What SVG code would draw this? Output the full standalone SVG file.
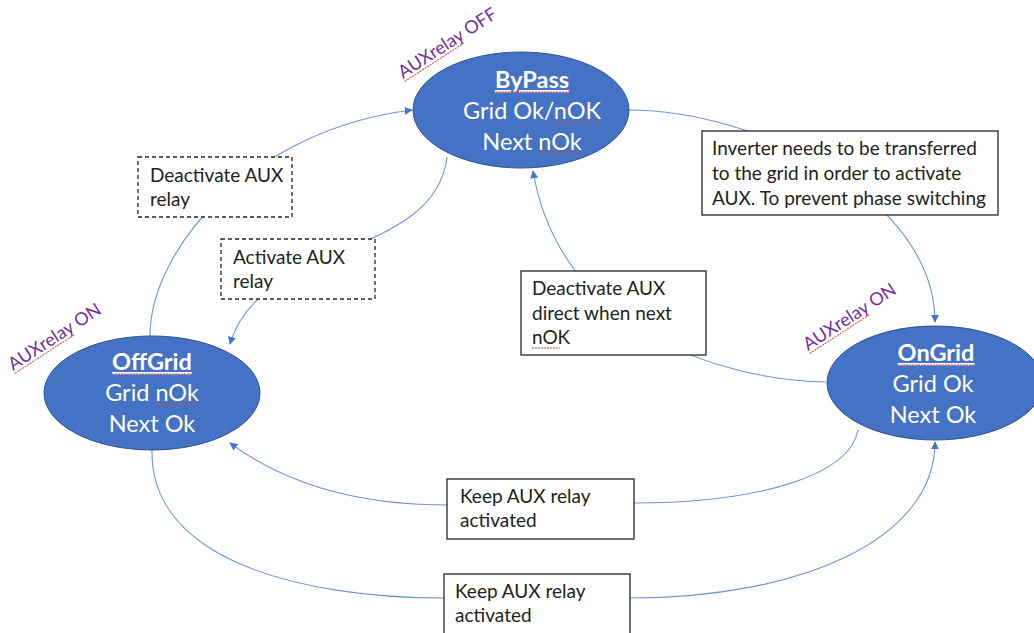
<svg xmlns="http://www.w3.org/2000/svg" width="1034" height="633" viewBox="0 0 1034 633">
<defs>
<marker id="arr" viewBox="0 0 10 10" refX="9" refY="5" markerWidth="8" markerHeight="8" markerUnits="userSpaceOnUse" orient="auto">
<path d="M0,0 L10,5 L0,10 z" fill="#4472C4"/>
</marker>
<style>
.conn{fill:none;stroke:#6F94D6;stroke-width:1.1;}
.state{fill:#4472C4;stroke:#2F528F;stroke-width:1;}
.st{font-family:Lato,"Liberation Sans",sans-serif;font-size:23.5px;fill:#fff;text-anchor:middle;}
.ttl{font-weight:bold;text-decoration:underline;}
.box{fill:#fff;stroke:#262626;stroke-width:1.3;}
.dbox{fill:#fff;stroke:#262626;stroke-width:1.3;stroke-dasharray:4,3;}
.bt{font-family:Lato,"Liberation Sans",sans-serif;font-size:19px;fill:#222;}
.aux{font-family:Lato,"Liberation Sans",sans-serif;font-size:18px;fill:#7030A0;}
.sp{fill:none;stroke:#E04040;stroke-width:1;stroke-dasharray:2,1;}
</style>
</defs>
<rect width="1034" height="633" fill="#fff"/>
<g id="connectors">
<path class="conn" d="M150,336 C150,250 250,130 412,110" marker-end="url(#arr)"/>
<path class="conn" d="M447,157 C435,260 260,240 230,344" marker-end="url(#arr)"/>
<path class="conn" d="M826,382 C720,380 560,330 533,171" marker-end="url(#arr)"/>
<path class="conn" d="M628,110 C760,110 935,200 935,322" marker-end="url(#arr)"/>
<path class="conn" d="M858,430 C850,475 760,503 634,503 L447,505 C350,505 280,480 230,443" marker-end="url(#arr)"/>
<path class="conn" d="M152,450 C150,560 300,598 444,598 L630,598 C800,598 935,540 935,442" marker-end="url(#arr)"/>
</g>
<g id="bypass">
<ellipse class="state" cx="521" cy="110" rx="108" ry="58"/>
<text class="st ttl" x="532" y="88">ByPass</text>
<text class="st" x="532" y="119">Grid Ok/nOK</text>
<text class="st" x="532" y="150">Next nOk</text>
<path class="sp" d="M496,92 H569 M555,123 H600 M539,153 H580"/>
</g>
<g id="offgrid">
<ellipse class="state" cx="152" cy="393" rx="108" ry="57"/>
<text class="st ttl" x="152" y="370">OffGrid</text>
<text class="st" x="152" y="401">Grid nOk</text>
<text class="st" x="152" y="432">Next Ok</text>
<path class="sp" d="M112,374 H193 M156,404 H199"/>
</g>
<g id="ongrid">
<ellipse class="state" cx="935" cy="383" rx="108" ry="57"/>
<text class="st ttl" x="936" y="361">OnGrid</text>
<text class="st" x="933" y="392">Grid Ok</text>
<text class="st" x="933" y="423">Next Ok</text>
<path class="sp" d="M897,365 H975"/>
</g>
<g id="aux-labels">
<g transform="translate(403,79) rotate(-33)">
<text class="aux">AUXrelay OFF</text>
<path class="sp" d="M0,3 H72"/>
</g>
<g transform="translate(13,371) rotate(-33)">
<text class="aux">AUXrelay ON</text>
<path class="sp" d="M0,3 H72"/>
</g>
<g transform="translate(808,351) rotate(-33)">
<text class="aux">AUXrelay ON</text>
<path class="sp" d="M0,3 H72"/>
</g>
</g>
<g id="lbl-deactivate">
<rect class="dbox" x="138" y="157" width="154" height="60"/>
<text class="bt" x="150" y="182">Deactivate AUX</text>
<text class="bt" x="150" y="206">relay</text>
</g>
<g id="lbl-activate">
<rect class="dbox" x="221" y="239" width="154" height="60"/>
<text class="bt" x="233" y="264">Activate AUX</text>
<text class="bt" x="233" y="288">relay</text>
</g>
<g id="lbl-deactivate-direct">
<rect class="box" x="521" y="271" width="185" height="84"/>
<text class="bt" x="532" y="295">Deactivate AUX</text>
<text class="bt" x="532" y="320">direct when next</text>
<text class="bt" x="532" y="344">nOK</text>
<path class="sp" d="M532,348 H560"/>
</g>
<g id="lbl-inverter">
<rect class="box" x="702" y="131" width="296" height="84"/>
<text class="bt" x="712" y="155">Inverter needs to be transferred</text>
<text class="bt" x="712" y="180">to the grid in order to activate</text>
<text class="bt" x="712" y="205">AUX. To prevent phase switching</text>
</g>
<g id="lbl-keep1">
<rect class="box" x="447" y="479" width="187" height="60"/>
<text class="bt" x="460" y="503">Keep AUX relay</text>
<text class="bt" x="460" y="527">activated</text>
</g>
<g id="lbl-keep2">
<rect class="box" x="444" y="574" width="186" height="70"/>
<text class="bt" x="455" y="598">Keep AUX relay</text>
<text class="bt" x="455" y="622">activated</text>
</g>
</svg>
